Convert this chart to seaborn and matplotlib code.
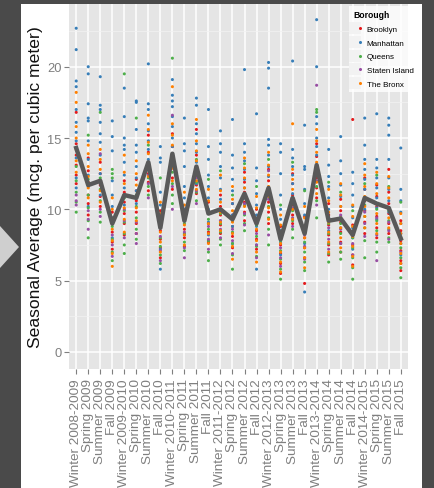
import numpy as np
import pandas as pd
import matplotlib
matplotlib.use("Agg")
import matplotlib.pyplot as plt
from matplotlib.lines import Line2D
from matplotlib.legend_handler import HandlerTuple
from matplotlib.patches import Rectangle, Polygon
import seaborn as sns

# Seasons on the x axis
seasons = [
    "Winter 2008-2009", "Spring 2009", "Summer 2009", "Fall 2009",
    "Winter 2009-2010", "Spring 2010", "Summer 2010", "Fall 2010",
    "Winter 2010-2011", "Spring 2011", "Summer 2011", "Fall 2011",
    "Winter 2011-2012", "Spring 2012", "Summer 2012", "Fall 2012",
    "Winter 2012-2013", "Spring 2013", "Summer 2013", "Fall 2013",
    "Winter 2013-2014", "Spring 2014", "Summer 2014", "Fall 2014",
    "Winter 2014-2015", "Spring 2015", "Summer 2015", "Fall 2015",
]

# Citywide seasonal mean (thick line)
season_means = [14.3, 11.7, 12.0, 9.0, 11.0, 10.8, 13.3, 8.7, 13.9, 9.2,
                13.0, 9.7, 10.0, 9.3, 11.1, 9.0, 11.5, 7.9, 10.8, 8.3,
                13.1, 9.2, 9.35, 8.2, 10.8, 10.4, 10.1, 7.95]

boroughs = ["Brooklyn", "Manhattan", "Queens", "Staten Island", "The Bronx"]
borough_colors = ["#E41A1C", "#377EB8", "#4DAF4A", "#984EA3", "#FF7F00"]

# Site values per season, one list per borough
manhattan = [
    [22.7, 21.2, 19.0, 18.6, 17.0, 16.1, 15.4, 14.8, 13.6, 12.2, 11.5],
    [20.0, 19.5, 17.4, 16.4, 16.2, 14.8, 13.5, 12.4, 11.6, 10.2],
    [19.3, 17.3, 17.0, 16.1, 15.3, 14.7, 13.8, 12.5, 11.0],
    [16.2, 15.1, 14.1, 12.0, 11.0, 10.2, 9.4, 8.0],
    [18.5, 16.5, 15.0, 14.5, 14.2, 13.3, 12.4, 11.5, 10.3],
    [17.6, 17.5, 15.6, 14.5, 14.0, 13.0, 12.2, 11.3, 10.4],
    [20.2, 17.4, 17.0, 16.0, 15.5, 14.8, 14.2, 13.5, 12.8],
    [14.4, 13.6, 13.3, 11.2, 10.3, 9.5, 8.8, 7.2, 5.8],
    [19.1, 18.0, 17.6, 17.2, 16.5, 15.8, 15.0, 14.4, 13.6],
    [16.4, 14.6, 14.1, 13.0, 11.6, 10.8, 10.0, 9.2, 8.2],
    [17.8, 17.3, 16.0, 15.3, 14.6, 14.0, 13.3, 12.6, 11.8],
    [17.0, 14.4, 13.5, 12.4, 11.6, 10.8, 10.0, 9.1, 8.2],
    [15.5, 14.6, 14.0, 13.0, 12.2, 11.4, 10.7, 10.0, 9.2],
    [16.3, 13.8, 12.9, 12.1, 11.3, 10.4, 9.6, 8.8, 7.6],
    [19.8, 14.6, 14.0, 13.4, 12.8, 12.1, 11.5, 10.8],
    [16.7, 12.9, 12.0, 11.1, 10.3, 9.6, 8.8, 7.5, 5.8],
    [20.3, 19.9, 18.5, 14.9, 14.5, 13.8, 13.0, 12.3, 11.4],
    [14.6, 14.0, 12.5, 11.0, 10.0, 9.3, 8.5, 7.7, 6.8],
    [20.4, 14.2, 13.6, 13.0, 12.4, 11.8, 11.1, 10.5],
    [15.9, 13.0, 12.8, 11.4, 10.4, 9.6, 8.8, 7.6, 4.2],
    [23.3, 20.0, 16.5, 16.0, 15.0, 14.4, 13.8, 13.1, 12.4],
    [14.2, 13.1, 12.3, 11.6, 10.8, 10.0, 9.3, 8.5],
    [15.1, 13.4, 12.5, 11.7, 10.9, 10.2, 9.5, 8.7],
    [12.6, 11.8, 11.0, 10.2, 9.4, 8.7, 8.0, 7.2],
    [16.4, 14.5, 13.5, 12.8, 12.1, 11.4, 10.7, 10.0],
    [16.7, 13.5, 12.9, 12.2, 11.5, 10.8, 10.1, 9.3],
    [16.4, 15.9, 15.2, 13.5, 12.2, 11.4, 10.6, 9.8],
    [14.3, 11.4, 10.6, 9.8, 9.0, 8.3, 7.6, 6.8],
]
bronx = [
    [18.2, 17.5, 15.8, 15.0, 14.2, 13.4, 12.6],
    [14.5, 13.9, 13.0, 12.3, 11.5, 10.8],
    [14.2, 13.5, 12.8, 12.0, 11.3, 10.5],
    [10.8, 10.0, 9.3, 8.6, 7.8, 6.9, 6.0],
    [13.8, 12.6, 11.8, 11.0, 10.1, 9.3, 8.4],
    [13.4, 12.5, 11.7, 10.9, 10.1, 9.2],
    [16.6, 15.6, 14.7, 13.9, 13.1, 12.3],
    [10.5, 9.7, 9.0, 8.4, 7.7, 7.0],
    [18.6, 16.0, 15.2, 14.5, 13.7, 12.9, 12.0],
    [11.2, 10.3, 9.6, 8.9, 8.2, 7.5],
    [16.3, 14.8, 14.1, 13.4, 12.7, 12.0, 11.4],
    [11.4, 10.6, 9.8, 9.0, 8.3, 7.6],
    [12.4, 11.3, 10.5, 9.8, 9.1, 8.5],
    [11.6, 10.7, 9.9, 9.1, 8.3, 7.4, 6.5],
    [13.6, 12.9, 12.2, 11.5, 10.9, 10.2],
    [10.9, 10.1, 9.3, 8.6, 7.8, 7.0, 6.3],
    [14.0, 13.1, 12.4, 11.6, 10.9, 10.1, 9.3],
    [9.6, 8.9, 8.2, 7.6, 7.0, 6.3, 5.6],
    [16.0, 12.8, 12.1, 11.4, 10.7, 10.0, 9.3],
    [10.2, 9.4, 8.7, 8.0, 7.3, 6.6, 5.9],
    [15.6, 14.8, 14.0, 13.3, 12.6, 11.9, 11.1],
    [11.4, 10.6, 9.8, 9.1, 8.4, 7.7, 7.0],
    [11.8, 11.0, 10.2, 9.4, 8.7, 8.0, 7.3],
    [10.3, 9.5, 8.8, 8.1, 7.4, 6.7, 6.0],
    [13.2, 12.4, 11.6, 10.9, 10.2, 9.5, 8.7],
    [12.6, 11.8, 11.1, 10.4, 9.7, 9.0, 8.3],
    [12.3, 11.5, 10.8, 10.1, 9.4, 8.7],
    [9.7, 9.0, 8.3, 7.6, 6.9, 6.2],
]
brooklyn = [
    [16.8, 14.6, 13.8, 13.1, 12.4, 11.8],
    [13.6, 12.7, 11.9, 11.0, 10.4, 9.6],
    [13.3, 12.5, 11.7, 10.9, 10.2],
    [9.8, 9.0, 8.4, 7.7, 7.2],
    [12.0, 11.2, 10.5, 9.7, 9.0, 8.2],
    [12.1, 11.3, 10.6, 9.8, 9.0, 8.3],
    [15.2, 14.0, 13.2, 12.5, 11.9, 11.3],
    [9.9, 9.1, 8.5, 7.9, 7.3, 6.6],
    [15.3, 14.4, 13.6, 12.9, 12.2, 11.4],
    [10.0, 9.3, 8.6, 8.0, 7.4],
    [15.6, 13.8, 13.0, 12.3, 11.7, 11.1],
    [10.5, 9.7, 9.0, 8.4, 7.7],
    [11.0, 10.2, 9.6, 8.9, 8.3],
    [10.4, 9.6, 8.8, 8.1, 7.3],
    [12.6, 11.9, 11.2, 10.5, 9.8, 9.2],
    [10.0, 9.2, 8.5, 7.9, 7.2],
    [12.8, 12.0, 11.2, 10.5, 9.8, 9.0],
    [8.8, 8.1, 7.5, 6.9, 6.2, 5.5],
    [12.5, 11.8, 11.0, 10.3, 9.6, 9.0],
    [9.5, 8.7, 8.0, 7.3, 6.6, 4.8],
    [14.6, 13.7, 12.9, 12.2, 11.5, 10.8],
    [10.4, 9.6, 8.9, 8.2, 7.5, 6.8],
    [10.7, 9.9, 9.1, 8.4, 7.7, 7.0],
    [16.3, 8.9, 8.2, 7.5, 6.8, 6.1],
    [12.2, 11.4, 10.6, 9.9, 9.1, 8.3],
    [11.7, 10.9, 10.2, 9.5, 8.7, 8.0],
    [12.8, 11.2, 10.4, 9.7, 9.0, 8.3],
    [9.2, 8.5, 7.8, 7.1, 6.4, 5.7],
]
queens = [
    [14.3, 13.0, 12.0, 11.2, 10.5, 9.8],
    [15.2, 12.1, 11.0, 10.1, 9.2, 8.0],
    [16.8, 12.2, 11.4, 10.6, 9.8, 9.1],
    [12.8, 12.5, 12.2, 8.8, 7.9, 7.0, 6.4],
    [19.5, 10.8, 9.9, 9.1, 8.3, 7.5, 6.9],
    [16.4, 11.0, 10.2, 9.4, 8.6, 7.9],
    [14.5, 13.0, 12.2, 11.6, 11.0],
    [12.2, 8.7, 8.0, 7.4, 6.8, 6.2],
    [20.6, 13.4, 12.6, 11.8, 11.0, 10.4],
    [9.8, 9.0, 8.3, 7.7, 7.1],
    [13.5, 12.6, 11.9, 11.2, 10.6],
    [12.1, 9.3, 8.6, 7.8, 7.0, 6.4],
    [12.7, 9.7, 9.0, 8.4, 7.9, 7.5],
    [11.0, 9.2, 8.4, 7.6, 6.8, 5.8],
    [13.2, 11.0, 10.3, 9.6, 9.0, 8.5],
    [11.6, 8.9, 8.1, 7.4, 6.7],
    [13.5, 11.0, 10.2, 9.4, 8.6, 7.5],
    [10.3, 7.8, 7.1, 6.5, 5.8, 5.1],
    [13.3, 10.6, 9.9, 9.2, 8.6, 8.0],
    [11.3, 8.4, 7.7, 7.0, 6.3, 5.7],
    [17.0, 16.8, 12.5, 11.6, 10.6, 9.4],
    [11.9, 9.0, 8.3, 7.6, 6.9, 6.3],
    [11.2, 9.0, 8.3, 7.6, 7.0, 6.5],
    [9.9, 8.0, 7.3, 6.6, 5.9, 5.1],
    [11.8, 10.3, 9.5, 8.7, 7.8, 6.6],
    [12.4, 10.0, 9.2, 8.5, 7.7, 7.0],
    [11.6, 9.9, 9.2, 8.6, 8.0, 7.7],
    [10.5, 8.0, 7.3, 6.6, 5.9, 5.2],
]
staten_island = [
    [11.0, 10.6, 10.3], [9.9, 9.3, 8.6], [13.9, 10.0, 9.5], [8.2, 7.5, 6.7],
    [10.0, 9.2, 8.0], [9.1, 8.3, 7.6], [12.4, 11.8, 10.8], [8.1, 7.1, 6.4],
    [16.6, 11.6, 10.0], [8.4, 7.3, 6.6], [12.2, 11.3, 10.4], [8.8, 7.9, 7.2],
    [9.2, 8.6, 8.0], [8.6, 7.8, 6.9], [10.4, 9.7, 8.9], [8.3, 7.5, 6.6],
    [12.7, 10.7, 8.2], [7.3, 6.6, 6.0], [10.1, 9.4, 8.8], [8.2, 7.4, 6.5],
    [18.7, 12.0, 10.3], [8.7, 7.9, 7.2], [9.6, 8.6, 7.6], [8.4, 7.6, 6.8],
    [9.8, 9.0, 8.1], [9.4, 8.2, 6.4], [9.1, 8.5, 7.9], [7.9, 7.0, 6.2],
]

# Long table for seaborn
rows = []
for name, data in zip(boroughs, [brooklyn, manhattan, queens, staten_island, bronx]):
    for season, vals in zip(seasons, data):
        for v in vals:
            rows.append((season, name, v))
df = pd.DataFrame(rows, columns=["season", "borough", "value"])

W, H = 434, 489
fig = plt.figure(figsize=(W / 100, H / 100), dpi=100)
fig.patch.set_facecolor("#4a4a4a")
# white slide area and the pointer on the left
fig.add_artist(Rectangle((21 / W, 0), (422 - 21) / W, 1 - 5 / H,
                         transform=fig.transFigure, facecolor="white", edgecolor="none", zorder=0))
fig.add_artist(Polygon([[0, 1 - 227 / H], [19 / W, 1 - 248 / H], [0, 1 - 269 / H]],
                       closed=True, transform=fig.transFigure, facecolor="#cfcfcf",
                       edgecolor="none", zorder=0))

plt.rcParams["font.family"] = ["Liberation Sans", "DejaVu Sans"]

ax = fig.add_axes([69 / W, 1 - 370 / H, (408 - 69) / W, (370 - 5) / H])
ax.set_facecolor("#E5E5E5")

sns.stripplot(data=df, x="season", y="value", hue="borough", order=seasons,
              hue_order=boroughs, palette=borough_colors, jitter=False,
              size=2.2, linewidth=0, ax=ax, zorder=3)
sns.lineplot(x=np.arange(len(seasons)), y=season_means, color="#595959",
             linewidth=3.2, ax=ax, zorder=4)

ax.set_xlim(-0.6, len(seasons) - 0.4)
ax.set_ylim(-1.2, 24.4)
ax.set_yticks([0, 5, 10, 15, 20])
ax.set_yticks([2.5, 7.5, 12.5, 17.5, 22.5], minor=True)
ax.set_xticks(np.arange(len(seasons)))
ax.set_xticklabels(seasons, rotation=90, ha="center", va="top")
ax.grid(which="major", color="white", linewidth=1.1, zorder=0)
ax.grid(which="minor", axis="y", color="#F2F2F2", linewidth=0.5, zorder=0)
ax.set_axisbelow(True)
for s in ax.spines.values():
    s.set_visible(False)
ax.tick_params(axis="both", which="major", colors="#7F7F7F", length=3.5,
               width=0.8, labelsize=9.3, pad=2)
ax.tick_params(axis="x", which="major", labelsize=9.7, pad=3)
ax.tick_params(axis="both", which="minor", length=0)
ax.set_xlabel("")
ax.set_ylabel("Seasonal Average (mcg. per cubic meter)", fontsize=12.6,
              color="#111111", labelpad=3)

ax.get_legend().remove()
key_box = Line2D([], [], marker="s", linestyle="", markersize=9,
                 markerfacecolor="#F2F2F2", markeredgewidth=0)
handles = [(key_box, Line2D([], [], marker="o", linestyle="", markersize=2.2,
                            markerfacecolor=c, markeredgewidth=0))
           for c in borough_colors]
leg = fig.legend(handles, boroughs, title="Borough", loc="upper right",
                 bbox_to_anchor=(418 / W, 1 - 7 / H), frameon=True,
                 handler_map={tuple: HandlerTuple(ndivide=None, pad=0)},
                 fontsize=5.8, title_fontsize=6.2, handlelength=1.1,
                 labelspacing=0.75, borderpad=0.55, handletextpad=0.6,
                 borderaxespad=0)
leg.get_frame().set_facecolor("white")
leg.get_frame().set_edgecolor("none")
leg.get_frame().set_boxstyle("square", pad=0)
leg.get_title().set_fontweight("bold")
leg._legend_box.align = "left"

fig.savefig("out.png", dpi=100, facecolor=fig.get_facecolor())
